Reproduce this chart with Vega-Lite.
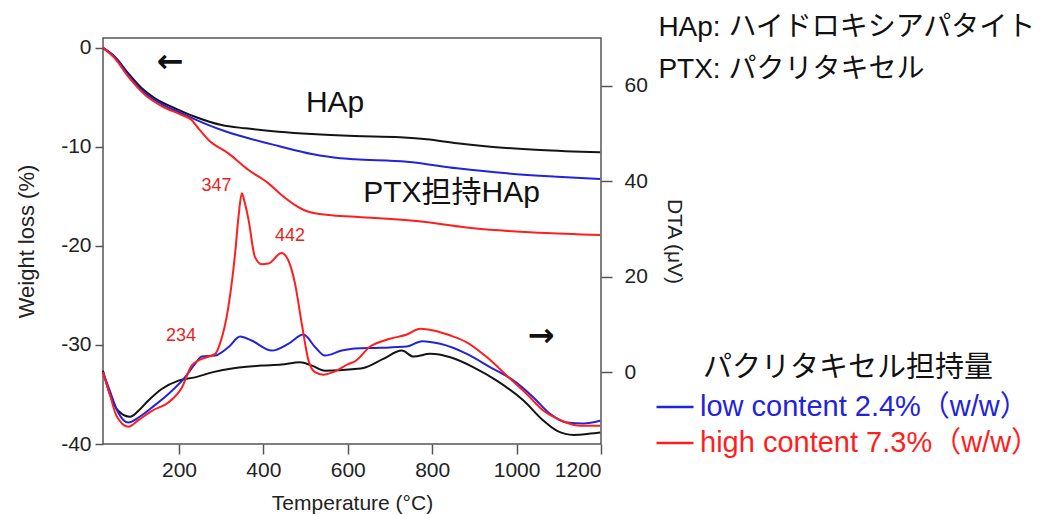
{
  "$schema": "https://vega.github.io/schema/vega-lite/v6.json",
  "width": 498,
  "height": 406,
  "autosize": {"type": "none"},
  "padding": {"left": 103, "top": 38, "right": 447, "bottom": 71},
  "background": "white",
  "config": {
    "font": "Liberation Sans",
    "view": {"stroke": "#555", "strokeWidth": 1.5},
    "axis": {
      "domain": false, "grid": false,
      "labelFont": "Liberation Sans", "labelFontSize": 21, "labelColor": "#222",
      "titleFont": "Liberation Sans", "titleFontSize": 21, "titleFontWeight": "normal", "titleColor": "#222",
      "tickColor": "#555", "tickWidth": 1.5,
      "labelExpr": "'' + datum.value"
    }
  },
  "datasets": {
    "tg": [
      {"s":"HAp","t":20,"w":0},{"s":"HAp","t":48,"w":-0.89},{"s":"HAp","t":80,"w":-2.57},{"s":"HAp","t":112,"w":-4.08},{"s":"HAp","t":143,"w":-5.09},{"s":"HAp","t":191,"w":-6.10},{"s":"HAp","t":238,"w":-6.95},{"s":"HAp","t":301,"w":-7.79},{"s":"HAp","t":357,"w":-8.12},{"s":"HAp","t":436,"w":-8.46},{"s":"HAp","t":515,"w":-8.70},{"s":"HAp","t":617,"w":-8.90},{"s":"HAp","t":724,"w":-9.03},{"s":"HAp","t":787,"w":-9.23},{"s":"HAp","t":859,"w":-9.64},{"s":"HAp","t":938,"w":-9.98},{"s":"HAp","t":1056,"w":-10.31},{"s":"HAp","t":1198,"w":-10.55},
      {"s":"low","t":20,"w":0},{"s":"low","t":48,"w":-0.95},{"s":"low","t":80,"w":-2.74},{"s":"low","t":120,"w":-4.59},{"s":"low","t":159,"w":-5.67},{"s":"low","t":207,"w":-6.61},{"s":"low","t":238,"w":-7.21},{"s":"low","t":301,"w":-8.29},{"s":"low","t":365,"w":-9.13},{"s":"low","t":436,"w":-9.91},{"s":"low","t":515,"w":-10.72},{"s":"low","t":582,"w":-11.15},{"s":"low","t":617,"w":-11.25},{"s":"low","t":740,"w":-11.50},{"s":"low","t":859,"w":-12.16},{"s":"low","t":977,"w":-12.67},{"s":"low","t":1096,"w":-13.01},{"s":"low","t":1198,"w":-13.24},
      {"s":"high","t":20,"w":0},{"s":"high","t":48,"w":-1.05},{"s":"high","t":80,"w":-2.91},{"s":"high","t":120,"w":-4.76},{"s":"high","t":159,"w":-5.87},{"s":"high","t":207,"w":-6.78},{"s":"high","t":230,"w":-7.28},{"s":"high","t":246,"w":-8.12},{"s":"high","t":270,"w":-9.30},{"s":"high","t":317,"w":-10.65},{"s":"high","t":365,"w":-12.33},{"s":"high","t":412,"w":-13.68},{"s":"high","t":443,"w":-14.86},{"s":"high","t":475,"w":-15.87},{"s":"high","t":507,"w":-16.55},{"s":"high","t":554,"w":-16.88},{"s":"high","t":617,"w":-17.05},{"s":"high","t":779,"w":-17.56},{"s":"high","t":898,"w":-18.22},{"s":"high","t":1056,"w":-18.67},{"s":"high","t":1198,"w":-18.90}
    ],
    "dta": [
      {"s":"HAp","t":20,"d":0.36},{"s":"HAp","t":36,"d":-4.54},{"s":"HAp","t":56,"d":-8.05},{"s":"HAp","t":84,"d":-9.31},{"s":"HAp","t":104,"d":-8.05},{"s":"HAp","t":127,"d":-5.95},{"s":"HAp","t":159,"d":-3.49},{"s":"HAp","t":199,"d":-1.74},{"s":"HAp","t":238,"d":-1.05},{"s":"HAp","t":278,"d":0},{"s":"HAp","t":333,"d":0.92},{"s":"HAp","t":396,"d":1.41},{"s":"HAp","t":443,"d":1.62},{"s":"HAp","t":487,"d":2.10},{"s":"HAp","t":515,"d":1.41},{"s":"HAp","t":546,"d":0.36},{"s":"HAp","t":617,"d":0.71},{"s":"HAp","t":637,"d":0.92},{"s":"HAp","t":684,"d":2.82},{"s":"HAp","t":728,"d":4.56},{"s":"HAp","t":756,"d":3.30},{"s":"HAp","t":795,"d":3.87},{"s":"HAp","t":843,"d":3.15},{"s":"HAp","t":898,"d":1.05},{"s":"HAp","t":953,"d":-1.74},{"s":"HAp","t":1017,"d":-5.95},{"s":"HAp","t":1064,"d":-10.15},{"s":"HAp","t":1096,"d":-12.25},{"s":"HAp","t":1135,"d":-13.09},{"s":"HAp","t":1175,"d":-12.82},{"s":"HAp","t":1198,"d":-12.6},
      {"s":"low","t":20,"d":0},{"s":"low","t":36,"d":-3.84},{"s":"low","t":56,"d":-8.40},{"s":"low","t":80,"d":-10.50},{"s":"low","t":104,"d":-9.45},{"s":"low","t":136,"d":-7.35},{"s":"low","t":175,"d":-4.54},{"s":"low","t":214,"d":-1.05},{"s":"low","t":238,"d":1.76},{"s":"low","t":254,"d":3.30},{"s":"low","t":286,"d":3.51},{"s":"low","t":317,"d":5.25},{"s":"low","t":345,"d":7.50},{"s":"low","t":372,"d":6.66},{"s":"low","t":420,"d":4.56},{"s":"low","t":459,"d":5.97},{"s":"low","t":495,"d":7.92},{"s":"low","t":523,"d":5.25},{"s":"low","t":546,"d":3.51},{"s":"low","t":586,"d":4.56},{"s":"low","t":617,"d":5.0},{"s":"low","t":677,"d":5.13},{"s":"low","t":740,"d":5.40},{"s":"low","t":776,"d":6.51},{"s":"low","t":819,"d":5.97},{"s":"low","t":882,"d":3.87},{"s":"low","t":938,"d":1.05},{"s":"low","t":993,"d":-1.74},{"s":"low","t":1040,"d":-5.25},{"s":"low","t":1080,"d":-8.74},{"s":"low","t":1119,"d":-10.50},{"s":"low","t":1159,"d":-10.71},{"s":"low","t":1198,"d":-10.15},
      {"s":"high","t":20,"d":0},{"s":"high","t":36,"d":-4.54},{"s":"high","t":52,"d":-9.10},{"s":"high","t":80,"d":-11.41},{"s":"high","t":104,"d":-10.0},{"s":"high","t":136,"d":-8.05},{"s":"high","t":175,"d":-6.30},{"s":"high","t":207,"d":-3.15},{"s":"high","t":230,"d":1.41},{"s":"high","t":254,"d":2.82},{"s":"high","t":286,"d":3.87},{"s":"high","t":297,"d":5.97},{"s":"high","t":317,"d":13.66},{"s":"high","t":333,"d":24.87},{"s":"high","t":341,"d":32.5},{"s":"high","t":349,"d":37.48},{"s":"high","t":356,"d":35.5},{"s":"high","t":365,"d":31.87},{"s":"high","t":380,"d":24.16},{"s":"high","t":396,"d":22.63},{"s":"high","t":412,"d":22.77},{"s":"high","t":443,"d":25.0},{"s":"high","t":459,"d":23.47},{"s":"high","t":475,"d":18.57},{"s":"high","t":491,"d":10.17},{"s":"high","t":507,"d":2.46},{"s":"high","t":523,"d":0},{"s":"high","t":542,"d":-0.48},{"s":"high","t":570,"d":0.21},{"s":"high","t":602,"d":1.76},{"s":"high","t":617,"d":2.3},{"s":"high","t":653,"d":5.40},{"s":"high","t":700,"d":7.02},{"s":"high","t":740,"d":7.92},{"s":"high","t":772,"d":9.12},{"s":"high","t":803,"d":8.76},{"s":"high","t":843,"d":7.71},{"s":"high","t":882,"d":6.30},{"s":"high","t":930,"d":3.15},{"s":"high","t":977,"d":-0.69},{"s":"high","t":1024,"d":-4.54},{"s":"high","t":1064,"d":-8.05},{"s":"high","t":1104,"d":-10.0},{"s":"high","t":1151,"d":-11.2},{"s":"high","t":1198,"d":-11.2}
    ],
    "bigLabels": [
      {"t":570,"w":-5.52,"label":"HAp"},
      {"t":846,"w":-14.66,"label":"PTX担持HAp"}
    ],
    "notes": [
      {"t":1336,"w":2.0,"label":"HAp: ハイドロキシアパタイト"},
      {"t":1336,"w":-2.23,"label":"PTX: パクリタキセル"}
    ],
    "leftArrow": [{"t":179,"w":-1.47,"label":"←"}],
    "rightArrow": [{"t":1058,"d":7.6,"label":"→"}],
    "peaks": [
      {"t":289,"d":39.1,"label":"347"},
      {"t":463,"d":28.5,"label":"442"},
      {"t":205,"d":7.6,"label":"234"}
    ]
  },
  "layer": [
    {
      "layer": [
        {
          "data": {"name": "tg"},
          "mark": {"type": "line", "strokeWidth": 2, "interpolate": "monotone"},
          "encoding": {
            "x": {"field": "t", "type": "quantitative",
                  "scale": {"domain": [20, 1200], "nice": false, "zero": false},
                  "axis": {"title": "Temperature (°C)", "values": [200, 400, 600, 800, 1000, 1200], "tickSize": 10, "labelPadding": 5, "titlePadding": 12}},
            "y": {"field": "w", "type": "quantitative",
                  "scale": {"domain": [-40, 1], "nice": false, "zero": false},
                  "axis": {"title": "Weight loss (%)", "titleFontSize": 22, "orient": "left", "values": [0, -10, -20, -30, -40], "tickSize": 8, "labelPadding": 4, "titlePadding": 22}},
            "color": {"field": "s", "type": "nominal",
                      "scale": {"domain": ["HAp", "low", "high"], "range": ["#141414", "#2323dc", "#ff1e1e"]},
                      "legend": {
                        "orient": "none", "legendX": 552, "legendY": 316, "padding": 0,
                        "values": ["low", "high"],
                        "title": "パクリタキセル担持量",
                        "titleFont": "Noto Sans CJK JP", "titleFontSize": 29, "titleFontWeight": "normal", "titleColor": "#111",
                        "titleAnchor": "middle", "titlePadding": 4, "titleLimit": 600,
                        "symbolType": "stroke", "symbolSize": 1369, "symbolStrokeWidth": 2.5,
                        "labelFont": "Liberation Sans, Noto Sans CJK JP", "labelFontSize": 29, "labelOffset": 5, "labelLimit": 0,
                        "rowPadding": 1,
                        "labelExpr": "datum.value == 'low' ? 'low content 2.4%（w/w）' : 'high content 7.3%（w/w）'",
                        "encode": {"labels": {"update": {"fill": {"signal": "datum.value == 'low' ? '#2323dc' : '#ff1e1e'"}}}}
                      }}
          }
        },
        {
          "data": {"name": "bigLabels"},
          "mark": {"type": "text", "font": "Liberation Sans, Noto Sans CJK JP", "fontSize": 30, "color": "#111", "align": "center", "baseline": "middle"},
          "encoding": {
            "x": {"field": "t", "type": "quantitative"},
            "y": {"field": "w", "type": "quantitative"},
            "text": {"field": "label"}
          }
        },
        {
          "data": {"name": "notes"},
          "mark": {"type": "text", "font": "Liberation Sans, Noto Sans CJK JP", "fontSize": 28, "color": "#111", "align": "left", "baseline": "middle"},
          "encoding": {
            "x": {"field": "t", "type": "quantitative"},
            "y": {"field": "w", "type": "quantitative"},
            "text": {"field": "label"}
          }
        },
        {
          "data": {"name": "leftArrow"},
          "mark": {"type": "text", "font": "DejaVu Sans", "fontSize": 32, "fontWeight": "bold", "color": "#111", "align": "center", "baseline": "middle"},
          "encoding": {
            "x": {"field": "t", "type": "quantitative"},
            "y": {"field": "w", "type": "quantitative"},
            "text": {"field": "label"}
          }
        }
      ]
    },
    {
      "layer": [
        {
          "data": {"name": "dta"},
          "mark": {"type": "line", "strokeWidth": 2, "interpolate": "monotone"},
          "encoding": {
            "x": {"field": "t", "type": "quantitative"},
            "y": {"field": "d", "type": "quantitative",
                  "scale": {"domain": [-15, 70], "nice": false, "zero": false},
                  "axis": {"title": "DTA (μV)", "orient": "right", "values": [0, 20, 40, 60], "tickSize": 11, "labelPadding": 12, "titlePadding": 16}},
            "color": {"field": "s", "type": "nominal"}
          }
        },
        {
          "data": {"name": "peaks"},
          "mark": {"type": "text", "font": "Liberation Sans", "fontSize": 18, "color": "#e8231e", "align": "center", "baseline": "middle"},
          "encoding": {
            "x": {"field": "t", "type": "quantitative"},
            "y": {"field": "d", "type": "quantitative"},
            "text": {"field": "label"}
          }
        },
        {
          "data": {"name": "rightArrow"},
          "mark": {"type": "text", "font": "DejaVu Sans", "fontSize": 32, "fontWeight": "bold", "color": "#111", "align": "center", "baseline": "middle"},
          "encoding": {
            "x": {"field": "t", "type": "quantitative"},
            "y": {"field": "d", "type": "quantitative"},
            "text": {"field": "label"}
          }
        }
      ]
    }
  ],
  "resolve": {"scale": {"y": "independent"}}
}
